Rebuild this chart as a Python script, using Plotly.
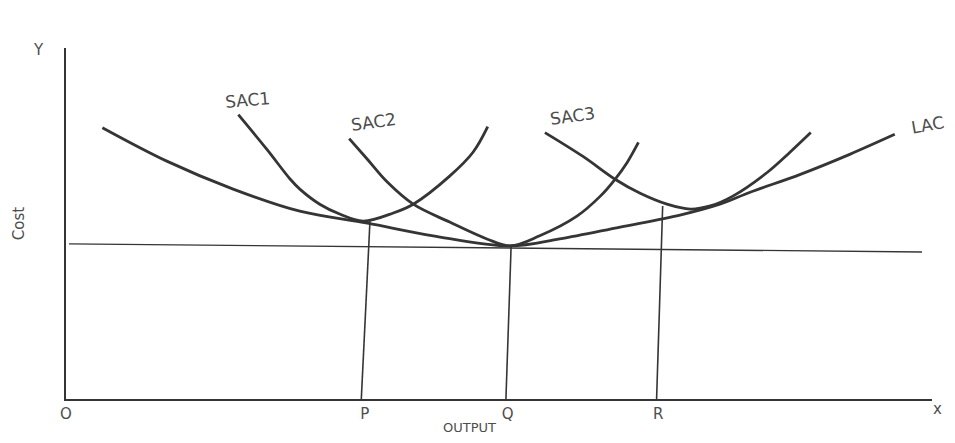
import plotly.graph_objects as go

# ---- data (arbitrary units: output 0-100, cost 0-100) ----
lac_x = [4.2, 11.7, 19.3, 27.0, 34.8, 42.4, 51.3, 57.0, 64.0, 70.9, 75.5, 79.0, 84.8, 90.5, 95.7]
lac_y = [77.3, 67.7, 59.8, 53.5, 50.1, 46.5, 43.6, 45.6, 49.0, 52.4, 55.5, 58.9, 64.0, 69.7, 75.4]

sac1_x = [19.9, 23.2, 25.9, 27.0, 29.3, 31.6, 34.3, 37.8, 40.1, 44.3, 47.0, 48.7]
sac1_y = [81.0, 71.1, 62.6, 59.8, 55.5, 52.7, 50.7, 53.0, 55.5, 63.5, 70.3, 77.6]

sac2_x = [32.7, 34.8, 37.1, 40.1, 44.3, 48.6, 51.3, 54.7, 59.0, 61.7, 63.4, 64.8, 66.1]
sac2_y = [74.2, 68.3, 61.8, 55.5, 50.4, 45.6, 43.6, 46.5, 52.1, 57.8, 62.6, 67.4, 73.1]

sac3_x = [55.3, 59.7, 63.4, 66.3, 69.4, 72.1, 74.4, 77.0, 81.0, 83.6, 86.0]
sac3_y = [75.9, 69.1, 62.6, 58.6, 55.5, 54.1, 55.0, 57.8, 64.6, 70.3, 75.9]

# minimum-cost level line
min_cost_x = [0.35, 98.85]
min_cost_y = [44.2, 41.9]

# output levels P, Q, R (drop lines from the curves to the output axis)
drop_top_x = [35.1, 51.4, 68.9]
drop_top_y = [50.7, 43.6, 55.0]
drop_bot_x = [34.1, 50.8, 68.2]

tick_positions = [0, 34.5, 51.0, 68.4]
tick_labels = ["O", "P", "Q", "R"]

curve_names = ["SAC1", "SAC2", "SAC3", "LAC"]
label_x = [0.210, 0.355, 0.585, 0.995]   # fraction of plot width
label_y = [0.853, 0.790, 0.805, 0.782]   # fraction of plot height
label_angle = [-5, -8, -8, -10]

INK = "#353535"
TXT = "#4d4d4d"
FONT = "DejaVu Sans"

fig = go.Figure()

for xs, ys, nm in [(lac_x, lac_y, "LAC"), (sac1_x, sac1_y, "SAC1"),
                   (sac2_x, sac2_y, "SAC2"), (sac3_x, sac3_y, "SAC3")]:
    fig.add_trace(go.Scatter(x=xs, y=ys, mode="lines", name=nm,
                             line=dict(color=INK, width=2.8, shape="spline", smoothing=1.0),
                             hoverinfo="skip"))

fig.add_trace(go.Scatter(x=min_cost_x, y=min_cost_y, mode="lines",
                         line=dict(color=INK, width=1.4), hoverinfo="skip"))

for xt, yt, xb in zip(drop_top_x, drop_top_y, drop_bot_x):
    fig.add_trace(go.Scatter(x=[xt, xb], y=[yt, 0], mode="lines",
                             line=dict(color=INK, width=1.6), hoverinfo="skip"))


def note(x, y, text, size, angle=0):
    fig.add_annotation(x=x, y=y, xref="paper", yref="paper", text=text,
                       xanchor="center", yanchor="middle",
                       showarrow=False, textangle=angle,
                       font=dict(family=FONT, size=size, color=TXT))


for nm, lx, ly, ang in zip(curve_names, label_x, label_y, label_angle):
    note(lx, ly, nm, 17, ang)

note(-0.032, 0.994, "Y", 15)
note(1.006, -0.028, "x", 15)
note(-0.055, 0.499, "Cost", 15, -90)
note(0.466, -0.082, "OUTPUT", 13)

# page body has an 8px margin: size the figure so the plot lands where the reference has it
fig.update_layout(
    width=939, height=427, autosize=False,
    margin=dict(l=58, r=15, t=40, b=34),
    paper_bgcolor="white", plot_bgcolor="white",
    showlegend=False,
    xaxis=dict(range=[0, 100], showgrid=False, zeroline=False,
               showline=True, linecolor=INK, linewidth=2,
               tickvals=tick_positions, ticktext=tick_labels, ticks="",
               tickfont=dict(family=FONT, size=15, color=TXT)),
    yaxis=dict(range=[0, 100], showgrid=False, zeroline=False,
               showline=True, linecolor=INK, linewidth=2,
               showticklabels=False, ticks=""),
)

fig.write_html("out.html")
